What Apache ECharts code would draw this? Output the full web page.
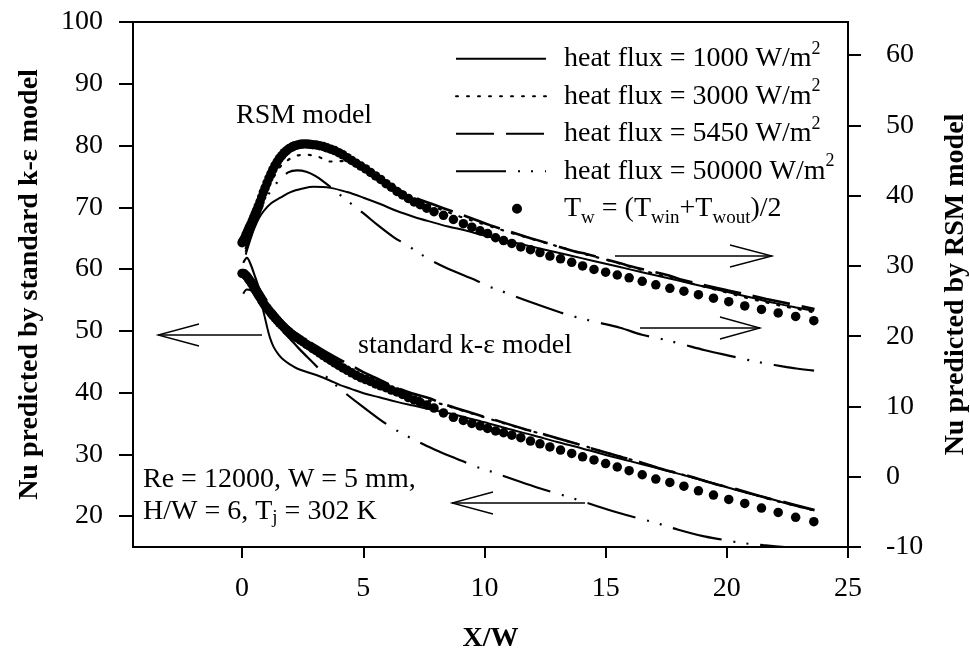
<!DOCTYPE html>
<html>
<head>
<meta charset="utf-8">
<script src="https://cdn.jsdelivr.net/npm/echarts@6/dist/echarts.min.js"></script>
<style>
  html, body { margin: 0; padding: 0; background: #fff; }
  #chart { width: 970px; height: 656px; }
</style>
</head>
<body>
<div id="chart"></div>
<script>
// Grid nodes (X/W) where the wall-temperature Nu is reported
const dotX = [0.00,0.05,0.10,0.15,0.20,0.25,0.30,0.36,0.42,0.48,
  0.54,0.60,0.67,0.74,0.81,0.88,0.95,1.03,1.11,1.19,
  1.27,1.36,1.45,1.54,1.64,1.74,1.84,1.95,2.06,2.17,
  2.29,2.41,2.53,2.66,2.79,2.92,3.06,3.20,3.35,3.50,
  3.66,3.82,3.99,4.16,4.34,4.52,4.71,4.90,5.10,5.30,
  5.51,5.72,5.94,6.16,6.39,6.62,6.86,7.10,7.35,7.62,
  7.92,8.31,8.72,9.13,9.48,9.82,10.13,10.46,10.79,11.13,
  11.50,11.90,12.29,12.70,13.14,13.60,14.05,14.52,15.00,15.48,
  15.97,16.51,17.07,17.65,18.23,18.83,19.45,20.08,20.74,21.43,
  22.12,22.84,23.59];

// Nu with Tw = (Twin+Twout)/2, RSM model (right axis)
const rsmDots = [33.3,33.6,33.9,34.3,34.7,35.1,35.5,35.9,36.4,36.9,
  37.4,37.9,38.5,39.1,39.8,40.5,41.1,41.8,42.5,43.1,
  43.7,44.3,44.8,45.3,45.7,46.1,46.4,46.7,46.9,47.1,
  47.2,47.3,47.35,47.35,47.3,47.25,47.2,47.1,47.0,46.8,
  46.6,46.4,46.1,45.8,45.4,45.0,44.6,44.2,43.8,43.3,
  42.8,42.3,41.7,41.2,40.6,40.1,39.6,39.1,38.7,38.2,
  37.7,37.2,36.6,36.0,35.5,35.0,34.6,34.0,33.6,33.2,
  32.7,32.3,31.9,31.4,31.0,30.5,30.0,29.5,29.1,28.7,
  28.3,27.8,27.3,26.8,26.4,25.9,25.4,24.9,24.3,23.8,
  23.3,22.8,22.2];

// Nu with Tw = (Twin+Twout)/2, standard k-epsilon model (left axis)
const keDots = [59.3,59.3,59.2,59.0,58.8,58.5,58.2,57.9,57.5,57.1,
  56.7,56.3,55.8,55.4,54.9,54.5,54.1,53.7,53.3,52.9,
  52.5,52.1,51.7,51.3,50.9,50.5,50.1,49.8,49.4,49.1,
  48.8,48.5,48.2,47.8,47.5,47.1,46.8,46.4,46.0,45.6,
  45.2,44.8,44.4,44.0,43.6,43.2,42.8,42.4,42.1,41.8,
  41.4,41.1,40.8,40.4,40.1,39.7,39.2,38.8,38.4,38.0,
  37.5,36.7,36.0,35.5,35.0,34.6,34.2,33.8,33.5,33.1,
  32.7,32.15,31.7,31.2,30.7,30.15,29.6,29.1,28.5,27.95,
  27.35,26.7,26.0,25.45,24.85,24.1,23.4,22.7,22.05,21.3,
  20.6,19.8,19.1];

// RSM model curves, [X/W, Nu]
const rsm1000 = [[0.15,31.6],[0.3,33.3],[0.5,35.3],[0.7,36.8],[0.89,37.8],[1.2,38.9],[1.58,39.7],[2.0,40.5],[2.5,41.0],[2.95,41.25],[3.64,41.1],[4.33,40.5],[5.01,39.7],[5.7,38.8],[6.39,37.8],[7.07,37.0],[7.76,36.3],[8.5,35.6],[9.27,35.0],[10,34.3],[11,33.5],[12,32.7],[13,31.9],[14,31.1],[15,30.3],[16,29.5],[17,28.7],[18,27.9],[19,27.1],[20,26.3],[21,25.5],[22,24.7],[23,24.0],[23.6,23.6]];
const rsm3000 = [[0.15,32.5],[0.4,34.8],[0.7,37.8],[1.0,40.4],[1.3,42.6],[1.6,44.2],[2.0,45.3],[2.27,45.7],[2.7,45.8],[3.16,45.5],[3.61,44.85],[4.2,44.9],[5.0,43.6],[6.0,41.5],[7.0,39.6],[8.0,38.3],[9.0,37.0],[10,35.9],[11,34.8],[12,33.8],[13,32.8],[14,31.8],[15,30.9],[16,29.9],[17,28.9],[18,28.0],[19,27.1],[20,26.2],[21,25.3],[22,24.5],[23,23.8],[23.6,23.4]];
const rsm5450 = [[0.15,32.8],[0.5,36.5],[1.0,41.5],[1.5,44.9],[2.0,46.6],[2.5,47.2],[3.0,47.2],[3.5,46.9],[4.0,46.3],[5.0,44.3],[6.25,41.3],[7.0,39.9],[7.76,38.9],[8.31,38.2],[9.68,36.5],[10.23,35.8],[11.74,34.1],[12.15,33.7],[13.73,32.05],[14.2,31.7],[15.72,30.25],[16.07,29.9],[17.65,28.6],[18.06,28.1],[19.64,26.8],[20.05,26.5],[21.63,25.3],[22.04,25.0],[23.62,23.85]];
const rsm50000 = [[0.15,32.0],[0.5,35.5],[1.0,39.6],[1.5,42.1],[1.9,43.3],[2.27,43.6],[2.65,43.4],[3.02,42.8],[3.43,41.8],[4.26,39.5],[5.0,37.5],[5.6,35.8],[6.25,34.1],[6.73,33.1],[7.21,32.05],[7.69,31.0],[8.5,29.6],[9.68,27.9],[10.16,27.1],[10.64,26.5],[11.19,25.75],[12.1,24.6],[13.11,23.4],[13.9,22.6],[14.69,21.95],[15.59,21.2],[16.5,20.2],[17.3,19.6],[18.13,18.88],[19.1,18.0],[20.12,17.2],[20.9,16.6],[21.63,16.1],[22.3,15.7],[22.87,15.4],[23.6,15.1]];

// Standard k-epsilon model curves, [X/W, Nu]
const ke1000 = [[0.05,56.0],[0.2,56.7],[0.35,56.6],[0.55,55.7],[0.7,54.9],[0.82,54.0],[0.92,52.5],[1.03,50.65],[1.15,48.9],[1.3,47.4],[1.5,46.2],[1.71,45.3],[2.0,44.5],[2.27,43.9],[2.7,43.3],[3.09,42.8],[3.6,42.0],[4.05,41.2],[4.5,40.6],[5.01,39.9],[5.7,39.2],[6.39,38.5],[7.07,37.9],[7.76,37.3],[8.58,36.6],[9.3,35.9],[10,35.2],[11,34.1],[12,33.1],[13,32.0],[14,31.0],[15,29.9],[16,28.9],[17,27.9],[18.07,26.8],[19,25.8],[19.71,25.0],[20.5,24.1],[21.2,23.4],[21.9,22.7],[22.7,21.8],[23.6,21.0]];
const ke3000 = [[0.05,59.0],[0.3,58.6],[0.6,56.9],[1.0,54.2],[1.5,51.6],[2.0,49.7],[2.5,48.4],[3.0,47.0],[3.5,45.7],[4.0,44.5],[5.0,42.4],[6.0,40.8],[7.0,39.5],[8.0,38.4],[9.0,37.2],[10,36.0],[11,34.8],[12,33.7],[13,32.6],[14,31.5],[15,30.3],[16,29.2],[17,28.0],[18,26.9],[19,25.8],[20,24.7],[21,23.6],[22,22.5],[23,21.5],[23.6,20.9]];
const ke5450 = [[0.05,59.6],[0.3,59.0],[0.6,57.5],[1.0,55.0],[1.5,52.3],[2.0,50.3],[2.5,48.9],[3.0,47.7],[3.5,46.5],[4.0,45.4],[4.5,44.4],[5.0,43.3],[5.5,42.4],[6.32,40.9],[7.0,39.9],[7.76,39.05],[8.24,38.25],[9.75,36.36],[10.23,35.8],[11.74,34.0],[12.22,33.5],[13.73,31.8],[14.22,31.2],[15.72,29.5],[16.13,29.1],[17.24,27.7],[17.72,27.17],[18.06,26.9],[19.71,25.0],[20.05,24.75],[21.7,22.87],[22.04,22.6],[23.62,20.97]];
const ke50000 = [[0.05,61.0],[0.2,61.8],[0.35,60.8],[0.55,58.6],[0.8,55.8],[1.17,52.55],[1.6,50.3],[2.0,48.6],[2.33,47.2],[2.68,45.8],[3.06,44.3],[3.36,43.0],[4.2,40.1],[5.15,37.2],[5.63,35.8],[6.11,34.5],[6.59,33.4],[7.5,31.6],[8.17,30.4],[8.65,29.6],[9.06,28.96],[9.57,28.1],[10.02,27.56],[11.0,26.2],[12.08,24.75],[12.8,23.9],[13.56,23.0],[14.5,21.8],[15.56,20.5],[16.3,19.7],[17.03,18.95],[18.0,17.8],[19.02,16.76],[19.8,16.2],[20.53,15.7],[21.5,15.3],[22.52,14.95],[23.6,14.6]];

// Axis ticks
const xTicks = [0, 5, 10, 15, 20, 25];
const leftTicks = [20, 30, 40, 50, 60, 70, 80, 90, 100];
const rightTicks = [-10, 0, 10, 20, 30, 40, 50, 60];

// Series names and their legend texts
const names = ['heat flux = 1000 W/m2', 'heat flux = 3000 W/m2', 'heat flux = 5450 W/m2', 'heat flux = 50000 W/m2', 'Tw = (Twin+Twout)/2'];
const legendText = {
  'heat flux = 1000 W/m2': 'heat flux = 1000 W/m{sup|2}',
  'heat flux = 3000 W/m2': 'heat flux = 3000 W/m{sup|2}',
  'heat flux = 5450 W/m2': 'heat flux = 5450 W/m{sup|2}',
  'heat flux = 50000 W/m2': 'heat flux = 50000 W/m{sup|2}',
  'Tw = (Twin+Twout)/2': 'T{sub|w} = (T{sub|win}+T{sub|wout})/2'
};

const FONT = '"Liberation Serif", "Times New Roman", serif';
const INK = '#000';

const dashStyles = {
  'heat flux = 1000 W/m2': { type: 'solid', width: 2 },
  'heat flux = 3000 W/m2': { type: [2, 9], width: 2.2, cap: 'round' },
  'heat flux = 5450 W/m2': { type: [38, 12], width: 2.6 },
  'heat flux = 50000 W/m2': { type: [50, 12, 2, 11, 2, 12], width: 2.2 }
};

function lineSeries(name, data, yAxisIndex) {
  return {
    type: 'line', name: name, data: data, yAxisIndex: yAxisIndex,
    symbol: 'none', showSymbol: false, smooth: 0.35, clip: true, z: 2,
    lineStyle: Object.assign({ color: INK }, dashStyles[name]),
    itemStyle: { color: INK },
    emphasis: { disabled: true }
  };
}

function dotSeries(values, yAxisIndex) {
  return {
    type: 'scatter', name: names[4], yAxisIndex: yAxisIndex, z: 3,
    data: dotX.map(function (x, i) { return [x, values[i]]; }),
    symbol: 'circle', symbolSize: 9.5,
    itemStyle: { color: INK, opacity: 1 },
    emphasis: { disabled: true }
  };
}

const chart = echarts.init(document.getElementById('chart'), null, { renderer: 'canvas' });

const supStyle = { fontFamily: FONT, fontSize: 18, color: INK, verticalAlign: 'top', lineHeight: 22 };
const subStyle = { fontFamily: FONT, fontSize: 19, color: INK, verticalAlign: 'bottom', lineHeight: 6 };

// legend marker for the dots: a 10px disc sitting right of the icon box centre
const dotIcon = 'path://M0,5L0.01,5M32,5A5,5,0,1,0,42,5A5,5,0,1,0,32,5Z';

const legendData = names.map(function (n, i) {
  return i < 4
    ? { name: n, itemStyle: { opacity: 0 } }
    : { name: n, icon: dotIcon, itemStyle: { opacity: 1, color: INK } };
});

const axisNameStyle = { fontFamily: FONT, fontSize: 28, fontWeight: 'bold', color: INK };
const tickFont = { fontFamily: FONT, fontSize: 28, color: INK };

const option = {
  animation: false,
  backgroundColor: '#fff',
  grid: {
    left: 133, right: 122, top: 22, bottom: 109,
    outerBoundsMode: 'none', containLabel: false,
    show: true, borderColor: INK, borderWidth: 2, backgroundColor: 'transparent'
  },
  legend: {
    orient: 'vertical', left: 455, top: 40, padding: 0,
    itemWidth: 90, itemHeight: 10, itemGap: 0,
    selectedMode: false,
    data: legendData,
    formatter: function (n) { return legendText[n]; },
    textStyle: {
      fontFamily: FONT, fontSize: 28, color: INK, lineHeight: 37.5, padding: [0, 0, 0, 13],
      rich: { sup: supStyle, sub: subStyle }
    }
  },
  xAxis: {
    type: 'value', min: -4.5, max: 25,
    name: 'X/W', nameLocation: 'middle', nameGap: 78,
    nameTextStyle: axisNameStyle,
    axisLine: { show: true, onZero: false, lineStyle: { color: INK, width: 2 } },
    axisTick: { show: true, inside: false, length: 11, customValues: xTicks, lineStyle: { color: INK, width: 2 } },
    axisLabel: Object.assign({ customValues: xTicks, margin: 28 }, tickFont),
    splitLine: { show: false }
  },
  yAxis: [
    {
      type: 'value', min: 15, max: 100, position: 'left',
      name: 'Nu predicted by standard k-\u03b5 model', nameLocation: 'middle', nameGap: 89, nameRotate: 90,
      nameTextStyle: axisNameStyle,
      axisLine: { show: true, onZero: false, lineStyle: { color: INK, width: 2 } },
      axisTick: { show: true, inside: false, length: 14, customValues: leftTicks, lineStyle: { color: INK, width: 2 } },
      axisLabel: Object.assign({ customValues: leftTicks, margin: 30 }, tickFont),
      splitLine: { show: false }
    },
    {
      type: 'value', min: -10, max: 64.7, position: 'right',
      name: 'Nu predicted by RSM model', nameLocation: 'middle', nameGap: 94, nameRotate: 90,
      nameTextStyle: axisNameStyle,
      axisLine: { show: true, onZero: false, lineStyle: { color: INK, width: 2 } },
      axisTick: { show: true, inside: false, length: 13, customValues: rightTicks, lineStyle: { color: INK, width: 2 } },
      axisLabel: Object.assign({ customValues: rightTicks, margin: 38 }, tickFont),
      splitLine: { show: false }
    }
  ],
  series: [
    lineSeries(names[0], rsm1000, 1),
    lineSeries(names[1], rsm3000, 1),
    lineSeries(names[2], rsm5450, 1),
    lineSeries(names[3], rsm50000, 1),
    lineSeries(names[0], ke1000, 0),
    lineSeries(names[1], ke3000, 0),
    lineSeries(names[2], ke5450, 0),
    lineSeries(names[3], ke50000, 0),
    dotSeries(rsmDots, 1),
    dotSeries(keDots, 0)
  ],
  graphic: [
    { type: 'text', x: 236, y: 115.5, style: { text: 'RSM model', fontFamily: FONT, fontSize: 28, fill: INK, verticalAlign: 'middle' } },
    { type: 'text', x: 358, y: 346, style: { text: 'standard k-\u03b5 model', fontFamily: FONT, fontSize: 28, fill: INK, verticalAlign: 'middle' } },
    { type: 'text', x: 143, y: 496, style: {
        text: 'Re = 12000, W = 5 mm,\nH/W = 6, T{sub|j} = 302 K',
        fontFamily: FONT, fontSize: 28, fill: INK, lineHeight: 32, verticalAlign: 'middle',
        rich: { sub: { fontFamily: FONT, fontSize: 19, fill: INK, verticalAlign: 'bottom', lineHeight: 4 } }
    } },
    // arrows pointing to the axis each model group is read against
    { type: 'polyline', shape: { points: [[262, 335], [158, 335]] }, style: { stroke: INK, lineWidth: 1.3, fill: null } },
    { type: 'polyline', shape: { points: [[199, 324], [158, 335], [199, 346]] }, style: { stroke: INK, lineWidth: 1.3, fill: null } },
    { type: 'polyline', shape: { points: [[615, 256], [772, 256]] }, style: { stroke: INK, lineWidth: 1.3, fill: null } },
    { type: 'polyline', shape: { points: [[730, 245], [772, 256], [730, 267]] }, style: { stroke: INK, lineWidth: 1.3, fill: null } },
    { type: 'polyline', shape: { points: [[640, 328], [760, 328]] }, style: { stroke: INK, lineWidth: 1.3, fill: null } },
    { type: 'polyline', shape: { points: [[720, 317], [760, 328], [720, 339]] }, style: { stroke: INK, lineWidth: 1.3, fill: null } },
    { type: 'polyline', shape: { points: [[585, 503], [452, 503]] }, style: { stroke: INK, lineWidth: 1.3, fill: null } },
    { type: 'polyline', shape: { points: [[493, 492], [452, 503], [493, 514]] }, style: { stroke: INK, lineWidth: 1.3, fill: null } }
  ]
};

chart.setOption(option);
</script>
</body>
</html>
